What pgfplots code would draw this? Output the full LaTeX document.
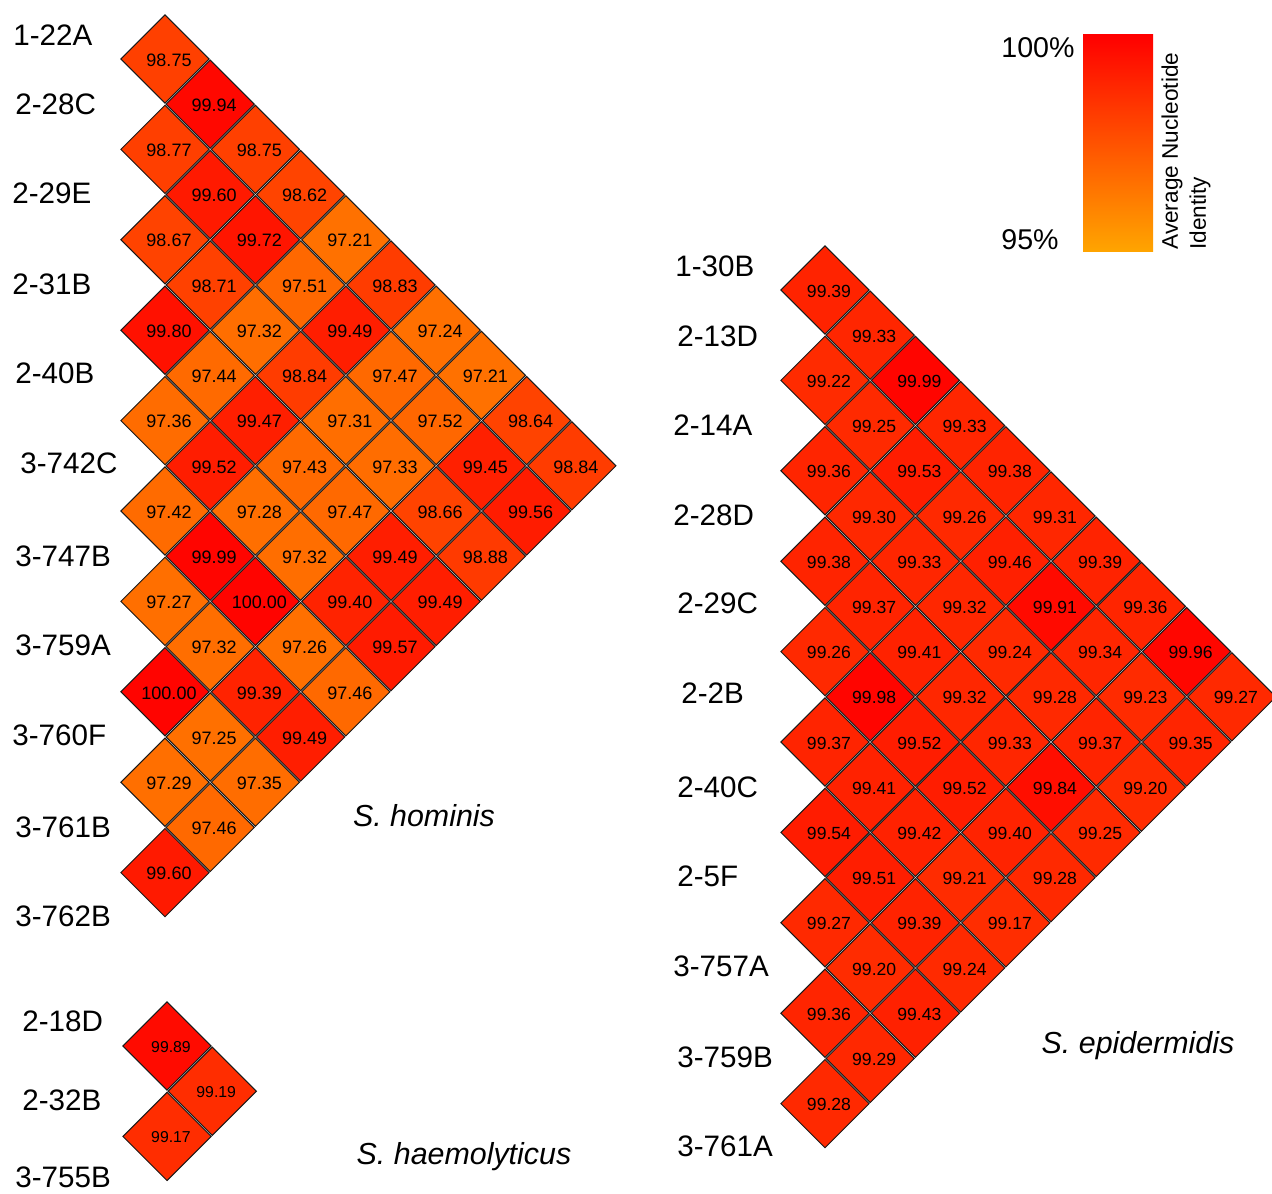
\documentclass[border=0pt]{standalone}
\usepackage{pgfplots}
\usepackage{pgfplotstable}
\usepackage{fontspec}
\setmainfont{Liberation Sans}
\pgfplotsset{compat=1.18}
\definecolor{cbtop}{RGB}{255,0,0}
\definecolor{cbbot}{RGB}{255,165,0}

% c = column offset (j-i-1), k = diagonal row (i+j-1), v = ANI (%)
\pgfplotstableread{
c k v
0 0 98.75
1 1 99.94
0 2 98.77
2 2 98.75
1 3 99.60
3 3 98.62
0 4 98.67
2 4 99.72
4 4 97.21
1 5 98.71
3 5 97.51
5 5 98.83
0 6 99.80
2 6 97.32
4 6 99.49
6 6 97.24
1 7 97.44
3 7 98.84
5 7 97.47
7 7 97.21
0 8 97.36
2 8 99.47
4 8 97.31
6 8 97.52
8 8 98.64
1 9 99.52
3 9 97.43
5 9 97.33
7 9 99.45
9 9 98.84
0 10 97.42
2 10 97.28
4 10 97.47
6 10 98.66
8 10 99.56
1 11 99.99
3 11 97.32
5 11 99.49
7 11 98.88
0 12 97.27
2 12 100.00
4 12 99.40
6 12 99.49
1 13 97.32
3 13 97.26
5 13 99.57
0 14 100.00
2 14 99.39
4 14 97.46
1 15 97.25
3 15 99.49
0 16 97.29
2 16 97.35
1 17 97.46
0 18 99.60
}\hominis

\pgfplotstableread{
c k v
0 0 99.39
1 1 99.33
0 2 99.22
2 2 99.99
1 3 99.25
3 3 99.33
0 4 99.36
2 4 99.53
4 4 99.38
1 5 99.30
3 5 99.26
5 5 99.31
0 6 99.38
2 6 99.33
4 6 99.46
6 6 99.39
1 7 99.37
3 7 99.32
5 7 99.91
7 7 99.36
0 8 99.26
2 8 99.41
4 8 99.24
6 8 99.34
8 8 99.96
1 9 99.98
3 9 99.32
5 9 99.28
7 9 99.23
9 9 99.27
0 10 99.37
2 10 99.52
4 10 99.33
6 10 99.37
8 10 99.35
1 11 99.41
3 11 99.52
5 11 99.84
7 11 99.20
0 12 99.54
2 12 99.42
4 12 99.40
6 12 99.25
1 13 99.51
3 13 99.21
5 13 99.28
0 14 99.27
2 14 99.39
4 14 99.17
1 15 99.20
3 15 99.24
0 16 99.36
2 16 99.43
1 17 99.29
0 18 99.28
}\epidermidis

\pgfplotstableread{
c k v
0 0 99.89
1 1 99.19
0 2 99.17
}\haemolyticus

\begin{document}
\begin{tikzpicture}
\begin{axis}[
  x=0.5pt, y=0.5pt, y dir=reverse,
  xmin=0, xmax=1272, ymin=0, ymax=1193,
  hide axis, clip=false,
  colormap={ani}{
    rgb255=(255,165,0) rgb255=(255,159,0) rgb255=(255,153,0) rgb255=(255,147,0)
    rgb255=(255,141,0) rgb255=(255,135,0) rgb255=(255,130,0) rgb255=(255,124,0)
    rgb255=(255,118,0) rgb255=(255,112,0) rgb255=(255,104,0) rgb255=(255,96,0)
    rgb255=(255,88,0) rgb255=(255,80,0) rgb255=(255,72,0) rgb255=(255,64,0)
    rgb255=(255,53,0) rgb255=(255,42,0) rgb255=(255,30,0) rgb255=(255,20,0)
    rgb255=(255,4,0)},
  point meta min=95, point meta max=100,
  cellplot/.style={
    scatter, only marks, mark=square*, mark size=15.6pt, line width=0.5pt,
    every mark/.append style={rotate=45},
    scatter/use mapped color={draw=black!90, fill=mapped color},
    point meta=explicit,
  },
  valplot/.style={
    only marks, mark=*, mark size=0pt,
    mark options={draw=none, fill=none},
    point meta=explicit,
    nodes near coords={\pgfmathprintnumber[fixed,fixed zerofill,precision=2,assume math mode=true]{\pgfplotspointmeta}},
    nodes near coords align=center,
    every node near coord/.append style={text=black, text opacity=1, draw=none, fill=none, inner sep=0pt, xshift=2pt, yshift=-0.5pt, font=\fontsize{#1}{10}\selectfont},
  },
]
\addplot[cellplot] table[x expr=165+45.2*\thisrow{c}, y expr=59+45.2*\thisrow{k}, meta=v] {\hominis};
\addplot[cellplot] table[x expr=825+45.2*\thisrow{c}, y expr=290+45.2*\thisrow{k}, meta=v] {\epidermidis};
\addplot[cellplot] table[x expr=167+45.2*\thisrow{c}, y expr=1046+45.2*\thisrow{k}, meta=v] {\haemolyticus};
\addplot[valplot=9] table[x expr=165+45.2*\thisrow{c}, y expr=59+45.2*\thisrow{k}, meta=v] {\hominis};
\addplot[valplot=8.8] table[x expr=825+45.2*\thisrow{c}, y expr=290+45.2*\thisrow{k}, meta=v] {\epidermidis};
\addplot[valplot=7.9] table[x expr=167+45.2*\thisrow{c}, y expr=1046+45.2*\thisrow{k}, meta=v] {\haemolyticus};

% strain labels
\tikzset{lab/.style={anchor=west, inner sep=0pt, font=\fontsize{14.8}{16}\selectfont}}
\node[lab] at (axis cs:13,35) {1-22A};
\node[lab] at (axis cs:15,104) {2-28C};
\node[lab] at (axis cs:12,193) {2-29E};
\node[lab] at (axis cs:12,284) {2-31B};
\node[lab] at (axis cs:15,373) {2-40B};
\node[lab] at (axis cs:20,463) {3-742C};
\node[lab] at (axis cs:15,556) {3-747B};
\node[lab] at (axis cs:15,645) {3-759A};
\node[lab] at (axis cs:12,735) {3-760F};
\node[lab] at (axis cs:15,827) {3-761B};
\node[lab] at (axis cs:15,916) {3-762B};

\node[lab] at (axis cs:675,266) {1-30B};
\node[lab] at (axis cs:677,336) {2-13D};
\node[lab] at (axis cs:673,425) {2-14A};
\node[lab] at (axis cs:673,515) {2-28D};
\node[lab] at (axis cs:677,603) {2-29C};
\node[lab] at (axis cs:681,693) {2-2B};
\node[lab] at (axis cs:677,787) {2-40C};
\node[lab] at (axis cs:677,876) {2-5F};
\node[lab] at (axis cs:673,966) {3-757A};
\node[lab] at (axis cs:677,1057) {3-759B};
\node[lab] at (axis cs:677,1146) {3-761A};

\node[lab] at (axis cs:22,1021) {2-18D};
\node[lab] at (axis cs:22,1100) {2-32B};
\node[lab] at (axis cs:15,1177) {3-755B};

% species
\node[font=\fontsize{15.2}{17}\selectfont\itshape] at (axis cs:424,816) {S. hominis};
\node[font=\fontsize{15.2}{17}\selectfont\itshape] at (axis cs:1138,1046) {S. epidermidis};
\node[font=\fontsize{15.2}{17}\selectfont\itshape] at (axis cs:464,1157) {S. haemolyticus};

% colour scale
\shade[top color=cbtop, bottom color=cbbot] (axis cs:1083,35) rectangle (axis cs:1153,252);
\node[anchor=west, inner sep=0pt, font=\fontsize{14.3}{16}\selectfont] at (axis cs:1001,48) {100\%};
\node[anchor=west, inner sep=0pt, font=\fontsize{14.3}{16}\selectfont] at (axis cs:1001,240) {95\%};
\node[rotate=90, anchor=north west, inner sep=0pt, align=left, font=\fontsize{11.3}{14}\selectfont] at (axis cs:1161,250) {Average Nucleotide\\Identity};
\end{axis}
\pgfresetboundingbox
\path (current axis.south west) rectangle (current axis.north east);
\end{tikzpicture}
\end{document}
